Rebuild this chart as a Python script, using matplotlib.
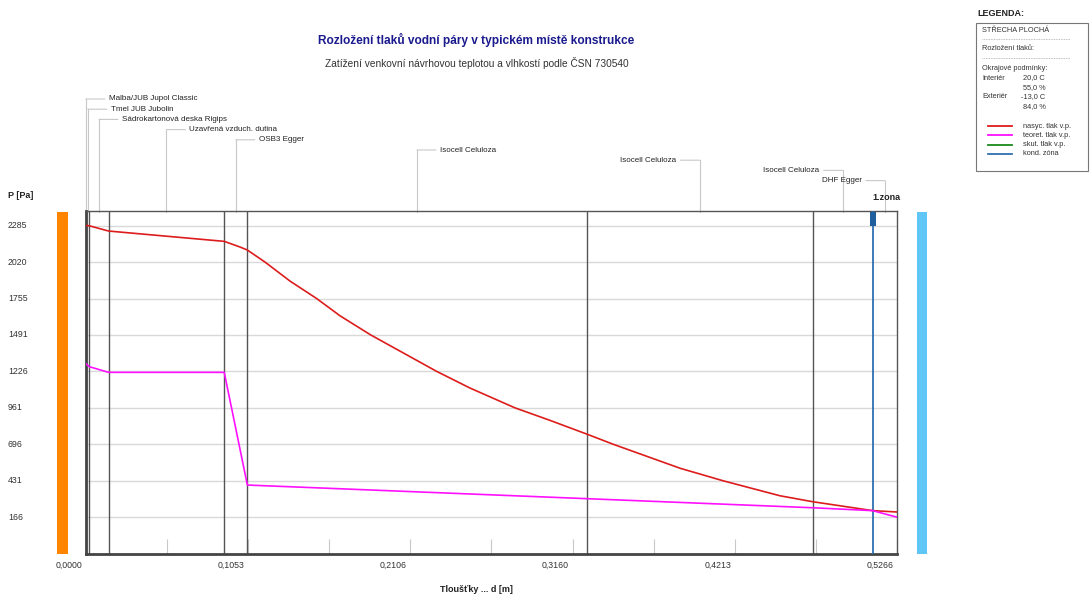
import numpy as np
import matplotlib.pyplot as plt
import matplotlib.transforms as mtransforms
from matplotlib.patches import Rectangle
from matplotlib.lines import Line2D

plt.rcParams['font.family'] = ['Liberation Sans', 'DejaVu Sans']

# layers of the roof, interior -> exterior
layer_names = ['Malba/JUB Jupol Classic', 'Tmel JUB Jubolin', 'Sádrokartonová deska Rigips',
               'Uzavřená vzduch. dutina', 'OSB3 Egger', 'Isocell Celuloza',
               'Isocell Celuloza', 'Isocell Celuloza', 'DHF Egger']
layer_thick = [0.0005, 0.002, 0.0125, 0.075, 0.015, 0.22, 0.1466, 0.039, 0.016]
label_left = [False, False, False, False, False, False, True, True, True]

# saturated vapour pressure (red)
sat_x = [0.0, 0.0025, 0.015, 0.090, 0.1002, 0.105, 0.1165, 0.1327, 0.150, 0.1651,
         0.185, 0.2278, 0.2494, 0.2786, 0.3013, 0.325, 0.3424, 0.3857, 0.4136,
         0.4505, 0.4716, 0.5106, 0.5266]
sat_p = [2287, 2284, 2246, 2171, 2130, 2108, 2020, 1882, 1755, 1630,
         1491, 1226, 1105, 961, 870, 771, 696, 522, 431,
         322, 279, 214, 204]

# theoretical vapour pressure (magenta)
teo_x = [0.0, 0.0025, 0.015, 0.090, 0.105, 0.325, 0.4716, 0.5106, 0.5266]
teo_p = [1285, 1260, 1219, 1219, 400, 301, 235, 214, 166]

y_ticks = [166, 431, 696, 961, 1226, 1491, 1755, 2020, 2285]
x_labels = ['0,0000', '0,1053', '0,2106', '0,3160', '0,4213', '0,5266']
total = 0.5266
cond_x = 0.5106

W, H = 1091, 597
fig = plt.figure(figsize=(W / 100, H / 100), dpi=100)
# pixel coordinates measured from the top-left corner
tpx = mtransforms.Affine2D().scale(1 / W, -1 / H).translate(0, 1) + fig.transFigure


def fx(px):
    return px / W


def fy(py):
    return 1 - py / H


L, R, T, B = 85.5, 897.3, 211.5, 553.7
ax = fig.add_axes([fx(L), fy(B), fx(R) - fx(L), fy(T) - fy(B)])
ax.set_xlim(0, total)
ax.set_ylim(-99, 2388)

# horizontal grid
for v in y_ticks:
    ax.axhline(v, color='#d9d9d9', lw=1, zorder=1)
ax.set_yticks(y_ticks)
ax.set_yticklabels([])
ax.tick_params(axis='y', length=0)

# x ticks: grey inner marks every tenth, labels every second
xt = np.linspace(0, total, 11)
ax.set_xticks(xt)
lbls = [x_labels[i // 2] if i % 2 == 0 else '' for i in range(11)]
ax.set_xticklabels(lbls, fontsize=6.3, color='#333333')
ax.tick_params(axis='x', direction='in', length=11, color='#c8c8c8', pad=5)
for lb in ax.get_xticklabels():
    lb.set_horizontalalignment('right')
    lb.set_transform(lb.get_transform() + mtransforms.ScaledTranslation(-0.035, 0, fig.dpi_scale_trans))

for s in ['top', 'right']:
    ax.spines[s].set_color('#555555')
    ax.spines[s].set_linewidth(1)
for s in ['bottom', 'left']:
    ax.spines[s].set_color('#444444')
    ax.spines[s].set_linewidth(2)

# layer boundaries
bounds = np.concatenate([[0], np.cumsum(layer_thick)])
for b in bounds[1:-1]:
    if abs(b - cond_x) < 1e-6:
        continue
    ax.axvline(b, color='#555555', lw=1, zorder=2)

# condensation zone
blend_top = mtransforms.blended_transform_factory(ax.transData, tpx)
ax.axvline(cond_x, color='#2f6fb0', lw=1.3, zorder=3)
ax.add_patch(Rectangle((cond_x - 0.0019, T), 0.0038, 14.5, transform=blend_top,
                       facecolor='#1f5f9e', edgecolor='none', clip_on=False, zorder=4))
ax.text(cond_x, 197, '1.zona', transform=blend_top, fontsize=6.5, fontweight='bold',
        ha='left', va='center', color='#222222')

# curves
ax.plot(sat_x, sat_p, color='#dd1c1c', lw=1.2, zorder=5)
ax.plot(teo_x, teo_p, color='#ff10ff', lw=1.2, zorder=5)

# layer labels with leader lines
for i, name in enumerate(layer_names):
    mid = (bounds[i] + bounds[i + 1]) / 2
    yl = 99 + 10.2 * i
    sign = -1 if label_left[i] else 1
    ax.plot([mid, mid], [T, yl], transform=blend_top, color='#c8c8c8', lw=0.8, clip_on=False)
    ax.annotate('', xy=(mid, yl), xycoords=blend_top, xytext=(sign * 19 * 0.72, 0),
                textcoords='offset points',
                arrowprops=dict(arrowstyle='-', color='#c8c8c8', lw=0.8, shrinkA=0, shrinkB=0))
    ax.annotate(name, xy=(mid, yl), xycoords=blend_top, xytext=(sign * 23 * 0.72, 0),
                textcoords='offset points', fontsize=5.8, color='#222222',
                ha='right' if label_left[i] else 'left', va='center')

# y labels
blend_y = mtransforms.blended_transform_factory(tpx, ax.transData)
for v in y_ticks:
    ax.text(8, v, str(v), transform=blend_y, fontsize=6.3, color='#333333', ha='left', va='center')
fig.text(fx(8), fy(195), 'P [Pa]', fontsize=6.5, fontweight='bold', ha='left', va='center', color='#222222')

# side bars (interior / exterior)
fig.patches.append(Rectangle((56.7, T), 10.8, B - T, transform=tpx, facecolor='#ff8500', edgecolor='none'))
fig.patches.append(Rectangle((916.5, T), 10.3, B - T, transform=tpx, facecolor='#5fc6f6', edgecolor='none'))

# titles
fig.text(fx(476.5), fy(40), 'Rozložení tlaků vodní páry v typickém místě konstrukce', fontsize=8.6,
         fontweight='bold', color='#1a1a8e', ha='center', va='center')
fig.text(fx(476.5), fy(63), 'Zatížení venkovní návrhovou teplotou a vlhkostí podle ČSN 730540', fontsize=7.3,
         color='#333333', ha='center', va='center')
fig.text(fx(476.5), fy(589), 'Tloušťky ... d [m]', fontsize=6.5, fontweight='bold', color='#222222',
         ha='center', va='center')

# legend panel
fig.text(fx(977), fy(13), 'LEGENDA:', fontsize=6.5, fontweight='bold', ha='left', va='center', color='#222222')
fig.patches.append(Rectangle((976, 23), 112, 148, transform=tpx, facecolor='white', edgecolor='#777777', lw=0.8))
fs = 5.3
tc = '#333333'
fig.text(fx(982), fy(31), 'STŘECHA PLOCHÁ', fontsize=fs, color=tc, va='center')
fig.lines.append(Line2D([982, 1070], [39, 39], transform=tpx, color='#aaaaaa', lw=0.6, ls=(0, (1, 1))))
fig.text(fx(982), fy(48), 'Rozložení tlaků:', fontsize=fs, color=tc, va='center')
fig.lines.append(Line2D([982, 1070], [58, 58], transform=tpx, color='#aaaaaa', lw=0.6, ls=(0, (1, 1))))
fig.text(fx(982), fy(69), 'Okrajové podmínky:', fontsize=fs, color=tc, va='center')
fig.text(fx(982), fy(78), 'Interiér', fontsize=fs, color=tc, va='center')
fig.text(fx(1023), fy(78), '20,0 C', fontsize=fs, color=tc, va='center')
fig.text(fx(1023), fy(88), '55,0 %', fontsize=fs, color=tc, va='center')
fig.text(fx(982), fy(97), 'Exteriér', fontsize=fs, color=tc, va='center')
fig.text(fx(1021), fy(97), '-13,0 C', fontsize=fs, color=tc, va='center')
fig.text(fx(1023), fy(107), '84,0 %', fontsize=fs, color=tc, va='center')
leg_names = ['nasyc. tlak v.p.', 'teoret. tlak v.p.', 'skut. tlak v.p.', 'kond. zóna']
leg_colors = ['#dd1c1c', '#ff10ff', '#1a8a1a', '#2f6fb0']
for k, (nm, c) in enumerate(zip(leg_names, leg_colors)):
    yy = 126 + 9.3 * k
    fig.lines.append(Line2D([988, 1012], [yy, yy], transform=tpx, color=c, lw=1.3))
    fig.text(fx(1023), fy(yy), nm, fontsize=fs, color=tc, va='center')

fig.savefig('out.png', dpi=100)
